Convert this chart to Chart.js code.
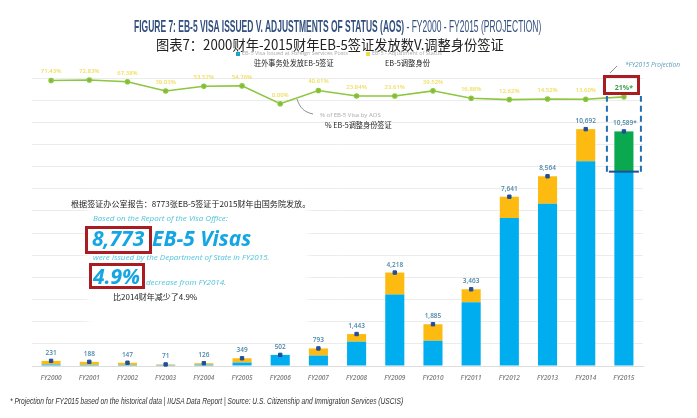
<!DOCTYPE html>
<html>
<head>
<meta charset="utf-8">
<script src="https://cdn.jsdelivr.net/npm/chart.js@4"></script>
<style>
    html, body { margin: 0; padding: 0; background: #fff; }
    #wrap { position: relative; width: 697px; height: 418px; overflow: hidden; font-family: "Open Sans", "Noto Sans CJK SC", sans-serif; }
    #wrap canvas { position: absolute; left: 0; top: 0; }
    .t { position: absolute; white-space: nowrap; line-height: 1; transform-origin: left top; }
    .zh { font-family: "Noto Sans CJK SC", sans-serif; color: #222; }
    .en { font-style: italic; color: #4fc3dc; font-size: 8px; }
    .big { font-style: italic; font-weight: 700; color: #14a5e3; }
    .box { position: absolute; border: 3px solid #a81c22; box-sizing: border-box; }
    #panel { position: absolute; left: 92px; top: 197px; width: 212px; height: 136px; background: #fff; box-shadow: 0 0 6px 4px #fff; }
</style>
</head>
<body>
<div id="wrap">
    <canvas id="chart" width="697" height="418"></canvas>
    <div id="panel"></div>

    <div class="t" data-fit="407" style="left:134px;top:17px;font:700 17px 'Liberation Sans',sans-serif;color:#33507f;">FIGURE 7: EB-5 VISA ISSUED V. ADJUSTMENTS OF STATUS (AOS)<span style="font-weight:400"> - FY2000 - FY2015 (PROJECTION)</span></div>
    <div class="t zh" data-fit="348" style="left:156px;top:37px;font-size:14px;">图表7：2000财年-2015财年EB-5签证发放数V.调整身份签证</div>

    <div style="position:absolute;left:236px;top:52px;width:4px;height:4px;background:#19a5c4"></div>
    <div class="t" style="left:242px;top:51px;font-size:5.5px;color:#aaa">EB-5 Visa Issued at Foreign Services Posts</div>
    <div style="position:absolute;left:366px;top:52px;width:4px;height:4px;background:#f2d94a"></div>
    <div class="t" style="left:372px;top:51px;font-size:5.5px;color:#aaa">EB-5 - Adjustment of Status</div>
    <div class="t zh" data-fit="80" style="left:254px;top:59px;font-size:7.5px;">驻外事务处发放EB-5签证</div>
    <div class="t zh" data-fit="45" style="left:385px;top:59px;font-size:7.5px;">EB-5调整身份</div>

    <div class="t" style="left:625px;top:62px;font-size:6.5px;font-style:italic;color:#5b9bb8">*FY2015 Projection</div>
    <div class="t" style="left:320px;top:112px;font-size:6px;color:#aaa">% of EB-5 Visa by AOS</div>
    <div class="t zh" data-fit="67" style="left:325px;top:121px;font-size:7.5px;">% EB-5调整身份签证</div>

    <svg width="697" height="418" style="position:absolute;left:0;top:0" fill="none" stroke="#8a8f96" stroke-width="1">
        <path d="M297 99 C300 108 304 112 313 114"/>
        <path d="M617 66 L610 73"/>
    </svg>
    <div class="box" style="left:603px;top:75px;width:37px;height:20px"></div>

    <div class="t zh" data-fit="239" style="left:71px;top:199px;font-size:8.2px;">根据签证办公室报告：8773张EB-5签证于2015财年由国务院发放。</div>
    <div class="t en" style="left:93px;top:214px;">Based on the Report of the Visa Office:</div>
    <div class="box" style="left:85px;top:226px;width:67px;height:28px"></div>
    <div class="t big" style="left:92px;top:228px;font-size:21px;">8,773</div>
    <div class="t big" style="left:152px;top:228px;font-size:21px;">EB-5 Visas</div>
    <div class="t en" style="left:93px;top:253px;">were issued by the Department of State in FY2015.</div>
    <div class="box" style="left:89px;top:263px;width:56px;height:26px"></div>
    <div class="t big" style="left:93px;top:266px;font-size:21px;">4.9%</div>
    <div class="t en" style="left:146px;top:278px;">decrease from FY2014.</div>
    <div class="t zh" data-fit="84" style="left:113px;top:293px;font-size:8px;">比2014财年减少了4.9%</div>

    <div class="t" data-fit="393" style="left:10px;top:396px;font:italic 8.4px 'Liberation Sans',sans-serif;color:#333;">* Projection for FY2015 based on the historical data | IIUSA Data Report | Source: U.S. Citizenship and Immigration Services (USCIS)</div>
</div>

<script>
    // ── Data ──────────────────────────────────────────────────────────────────
    const years        = ['FY2000','FY2001','FY2002','FY2003','FY2004','FY2005','FY2006','FY2007','FY2008','FY2009','FY2010','FY2011','FY2012','FY2013','FY2014','FY2015'];
    const totals       = [231, 188, 147, 71, 126, 349, 502, 793, 1443, 4218, 1885, 3463, 7641, 8564, 10692, 10589];
    const issuedAbroad = [66, 51, 48, 43, 58, 158, 502, 471, 1099, 3222, 1140, 2878, 6677, 7321, 9238, 8773];
    const adjustments  = [165, 137, 99, 28, 68, 191, 0, 322, 344, 996, 745, 585, 964, 1243, 1454, 0];
    const projected    = [0, 0, 0, 0, 0, 0, 0, 0, 0, 0, 0, 0, 0, 0, 0, 1816];
    const aosShare     = [71.43, 72.83, 67.38, 39.03, 53.57, 54.76, 0, 40.61, 23.84, 23.61, 39.52, 16.88, 12.62, 14.52, 13.60, 21];

    const totalLabels = totals.map((v, i) => v.toLocaleString('en-US') + (i === 15 ? '*' : ''));
    const shareLabels = aosShare.map((v, i) => i === 15 ? v + '%*' : v.toFixed(2) + '%');

    // squeeze the overlay text to the width it has in the picture
    document.querySelectorAll('[data-fit]').forEach(el => {
        el.style.transform = `scaleX(${el.dataset.fit / el.offsetWidth})`;
    });

    // ── Labels and projection frame ───────────────────────────────────────────
    const markupPlugin = {
        id: 'markup',
        afterDatasetsDraw(chart) {
            const { ctx, scales } = chart;
            const totalPts = chart.getDatasetMeta(4).data;
            const sharePts = chart.getDatasetMeta(3).data;

            ctx.save();
            ctx.textAlign = 'center';
            ctx.font = '600 6.5px "Open Sans", sans-serif';
            ctx.fillStyle = '#4a86a8';
            totalPts.forEach((p, i) => ctx.fillText(totalLabels[i], p.x + (i === 15 ? 1 : 0), p.y - 6));

            sharePts.forEach((p, i) => {
                ctx.font = i === 15 ? '700 7px "Open Sans", sans-serif' : '600 6px "Open Sans", sans-serif';
                ctx.fillStyle = i === 15 ? '#3f9e4a' : '#efdc5a';
                ctx.fillText(shareLabels[i], p.x, i === 15 ? 90 : p.y - 7);
            });

            // dashed frame around the projected part of FY2015
            const cx   = totalPts[15].x;
            const base = scales.y.getPixelForValue(issuedAbroad[15]);
            ctx.strokeStyle = '#1f6fb5';
            ctx.lineWidth = 2;
            ctx.setLineDash([6, 4]);
            ctx.beginPath();
            ctx.moveTo(cx - 17, base);
            ctx.lineTo(cx - 17, 96);
            ctx.moveTo(cx + 17, base);
            ctx.lineTo(cx + 17, 96);
            ctx.stroke();
            ctx.setLineDash([]);
            ctx.strokeStyle = '#1f4e9c';
            ctx.beginPath();
            ctx.moveTo(cx - 15, base);
            ctx.lineTo(cx + 15, base);
            ctx.stroke();
            ctx.restore();
        },
    };

    // ── Chart ─────────────────────────────────────────────────────────────────
    new Chart(document.getElementById('chart'), {
        type: 'bar',
        data: {
            labels: years,
            datasets: [
                { label: 'EB-5 Visa Issued at Foreign Services Posts', data: issuedAbroad, backgroundColor: '#00aeef', order: 3 },
                { label: 'EB-5 - Adjustment of Status', data: adjustments, backgroundColor: '#fdbb12', order: 3 },
                { label: 'Projection', data: projected, backgroundColor: '#0aa84f', order: 3 },
                {
                    type: 'line', label: '% of EB-5 Visa by AOS', data: aosShare, yAxisID: 'y2',
                    borderColor: '#8dc63f', backgroundColor: '#7fb53a', borderWidth: 1.6,
                    pointRadius: 2, tension: 0, clip: false, order: 1,
                },
                {
                    type: 'line', label: 'Total', data: totals, stack: 'totals', showLine: false,
                    pointStyle: 'rect', pointRadius: 2.4, backgroundColor: '#1f4e9c', borderColor: '#1f4e9c',
                    clip: false, order: 0,
                },
            ],
        },
        options: {
            responsive: false,
            animation: false,
            layout: { padding: { left: 32, right: 54, top: 78, bottom: 30 } },
            plugins: { legend: { display: false }, tooltip: { enabled: false } },
            datasets: { bar: { barPercentage: 0.5, categoryPercentage: 1 } },
            scales: {
                x: {
                    stacked: true,
                    grid: { display: false },
                    border: { color: '#dcdcdc' },
                    afterFit(scale) { scale.height = 22; },
                    ticks: {
                        color: '#7d7d7d', padding: 0, maxRotation: 0, autoSkip: false,
                        font: { size: 6.5, style: 'italic', weight: '600', family: '"Open Sans", sans-serif' },
                    },
                },
                y: {
                    stacked: true,
                    min: 0,
                    max: 13000,
                    ticks: { display: false, stepSize: 1000 },
                    grid: { color: '#ececec', drawTicks: false },
                    border: { display: false },
                },
                // share line lives in the strip above the bars
                y2: { display: false, min: -807, max: 79 },
            },
        },
        plugins: [markupPlugin],
    });
</script>
</body>
</html>
